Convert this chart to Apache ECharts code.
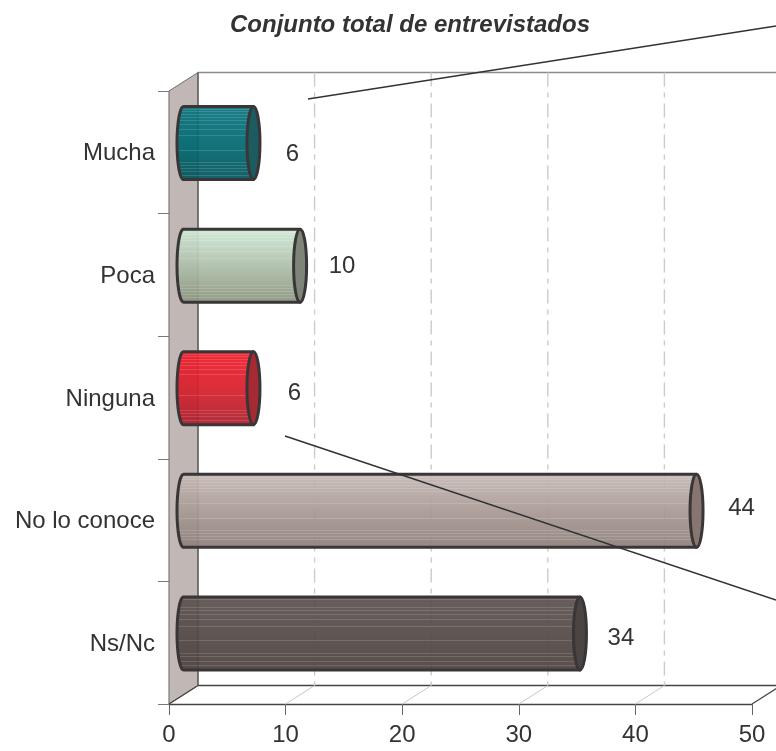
<!DOCTYPE html>
<html>
<head>
<meta charset="utf-8">
<style>html,body{margin:0;padding:0;background:#fff}#c{width:776px;height:751px}</style>
<script src="https://cdn.jsdelivr.net/npm/echarts@6/dist/echarts.min.js"></script>
</head>
<body>
<div id="c"></div>
<script>
const titleText = 'Conjunto total de entrevistados';
const categories = ['Mucha', 'Poca', 'Ninguna', 'No lo conoce', 'Ns/Nc'];
const values = [6, 10, 6, 44, 34];
const xTicks = [0, 10, 20, 30, 40, 50];

// [top, middle, bottom, cap] colours of each cylinder
const palette = [
  ['#0a7480', '#006a72', '#04545c', '#1c5c60'],
  ['#cfe8d6', '#aebfa9', '#8a957f', '#7f8478'],
  ['#f01c2c', '#d8202c', '#ac1e2c', '#a52a34'],
  ['#c4b8b4', '#a89a94', '#8e807a', '#86766f'],
  ['#5c5250', '#544a48', '#4c4240', '#4a4442']
];
const labelNudgeX = [39, 42, 41, 45, 41];
const labelNudgeY = [11, 1, 5, -2, 5];
const stripes = [0.04, 0.07, 0.11, 0.15, 0.19, 0.24, 0.31, 0.40, 0.60, 0.77, 0.81, 0.85, 0.89, 0.94];

const DEPTH_X = 29, DEPTH_Y = 18.5, BAR_H = 73, CAP_RX = 6.5;
const INK = '#333333';
const FONT = '"Liberation Sans", Arial, sans-serif';

function hex(c) { return [1, 3, 5].map(i => parseInt(c.substr(i, 2), 16)); }
function toHex(rgb) { return '#' + rgb.map(v => Math.round(v).toString(16).padStart(2, '0')).join(''); }
function mix(a, b, t) {
  const A = hex(a), B = hex(b);
  return toHex(A.map((v, i) => v + (B[i] - v) * t));
}
function shade(p, t) {
  return t < 0.5 ? mix(p[0], p[1], t * 2) : mix(p[1], p[2], (t - 0.5) * 2);
}
function bodyFill(p) {
  const stops = [{ offset: 0, color: p[0] }];
  const d = 0.006;
  stripes.forEach(f => {
    const b = shade(p, f);
    const hi = mix(b, '#ffffff', 0.14);
    stops.push({ offset: f - d, color: b }, { offset: f - d, color: hi },
               { offset: f + d, color: hi }, { offset: f + d, color: b });
  });
  stops.push({ offset: 1, color: p[2] });
  return { type: 'linear', x: 0, y: 0, x2: 0, y2: 1, colorStops: stops };
}

function renderFrame(params, api) {
  const g = params.coordSys;
  const L = g.x, R = g.x + g.width, T = g.y, B = g.y + g.height;
  const children = [];
  children.push({ type: 'polygon',
    shape: { points: [[L, T], [L + DEPTH_X, T - DEPTH_Y], [L + DEPTH_X, B - DEPTH_Y], [L, B]] },
    style: { fill: '#c1b7b4', stroke: '#6e6e6e', lineWidth: 1 } });
  const line = (x1, y1, x2, y2, stroke, w, dash) => children.push({ type: 'line',
    shape: { x1, y1, x2, y2 }, style: { stroke, lineWidth: w, lineDash: dash || null } });
  line(L + DEPTH_X, T - DEPTH_Y, R + DEPTH_X, T - DEPTH_Y, '#8c8c8c', 1.5);
  line(L + DEPTH_X, T - DEPTH_Y, L + DEPTH_X, B - DEPTH_Y, '#555555', 1.2);
  line(L, B, L + DEPTH_X, B - DEPTH_Y, '#444444', 1.2);
  line(L + DEPTH_X, B - DEPTH_Y, R + DEPTH_X, B - DEPTH_Y, '#444444', 1.5);
  line(R, B, R + DEPTH_X, B - DEPTH_Y, '#444444', 1.2);
  xTicks.slice(1, -1).forEach(v => {
    const x = api.coord([v, 0])[0];
    line(x + DEPTH_X, T - DEPTH_Y, x + DEPTH_X, B - DEPTH_Y, '#d2c8c8', 1.4, [14, 6, 5, 6]);
    line(x, B, x + DEPTH_X, B - DEPTH_Y, '#cfc4c0', 1);
  });
  return { type: 'group', children };
}

function renderBar(params, api) {
  const i = params.dataIndex;
  const end = api.coord([api.value(0), i]);
  const start = api.coord([0, i]);
  const p = palette[i];
  const x0 = start[0] + DEPTH_X / 2, x1 = end[0] + DEPTH_X / 2;
  const cy = end[1] - DEPTH_Y / 2, ry = BAR_H / 2;
  const outline = [];
  for (let k = 0; k <= 24; k++) {
    const a = Math.PI * k / 24;
    outline.push([x0 - CAP_RX * Math.sin(a), cy - ry * Math.cos(a)]);
  }
  outline.push([x1, cy + ry], [x1, cy - ry]);
  return { type: 'group', children: [
    { type: 'polygon', shape: { points: outline },
      style: { fill: bodyFill(p), opacity: 0.93 } },
    { type: 'polygon', shape: { points: outline },
      style: { fill: 'none', stroke: '#3a3638', lineWidth: 3, lineJoin: 'round' } },
    { type: 'ellipse', shape: { cx: x1, cy, rx: CAP_RX, ry },
      style: { fill: p[3], stroke: '#3a3638', lineWidth: 3 } },
    { type: 'text', style: { text: String(values[i]), x: x1 + labelNudgeX[i], y: cy + labelNudgeY[i],
      align: 'center', verticalAlign: 'middle', fill: INK,
      font: '24px ' + FONT } }
  ] };
}

const chart = echarts.init(document.getElementById('c'), null, { renderer: 'canvas' });
chart.setOption({
  animation: false,
  backgroundColor: '#ffffff',
  title: {
    text: titleText, left: 405, top: 8, textAlign: 'center',
    textStyle: { fontFamily: FONT, fontSize: 24,
      fontWeight: 'bold', fontStyle: 'italic', color: INK }
  },
  grid: { left: 169, right: 24, top: 91, bottom: 47, containLabel: false },
  xAxis: {
    type: 'value', min: 0, max: 50, interval: 10,
    splitLine: { show: false },
    axisLine: { show: true, lineStyle: { color: '#444444', width: 1.3 } },
    axisTick: { show: true, length: 11, lineStyle: { color: '#666666', width: 1 } },
    axisLabel: { margin: 19, color: INK, fontSize: 24, fontFamily: FONT }
  },
  yAxis: {
    type: 'category', inverse: true, data: categories,
    axisLine: { show: true, onZero: false, lineStyle: { color: '#777777', width: 1.2 } },
    axisTick: { show: true, length: 11, lineStyle: { color: '#777777', width: 1 } },
    axisLabel: { margin: 14, formatter: '{a|{value}}',
      rich: { a: { color: INK, fontSize: 24, fontFamily: FONT, padding: [3, 0, 0, 0] } } }
  },
  series: [
    { type: 'custom', name: 'frame', coordinateSystem: 'cartesian2d', clip: false, silent: true, z: 1,
      renderItem: renderFrame, data: [[0, 0]] },
    { type: 'custom', name: 'valor', coordinateSystem: 'cartesian2d', clip: false, z: 3,
      renderItem: renderBar, encode: { x: 0, y: 1 },
      data: values.map((v, i) => [v, i]) }
  ],
  graphic: [
    { type: 'line', z: 10, shape: { x1: 308, y1: 99, x2: 776, y2: 26 }, style: { stroke: '#333333', lineWidth: 1.6 } },
    { type: 'line', z: 10, shape: { x1: 285, y1: 436, x2: 776, y2: 600 }, style: { stroke: '#333333', lineWidth: 1.6 } }
  ]
});
</script>
</body>
</html>
